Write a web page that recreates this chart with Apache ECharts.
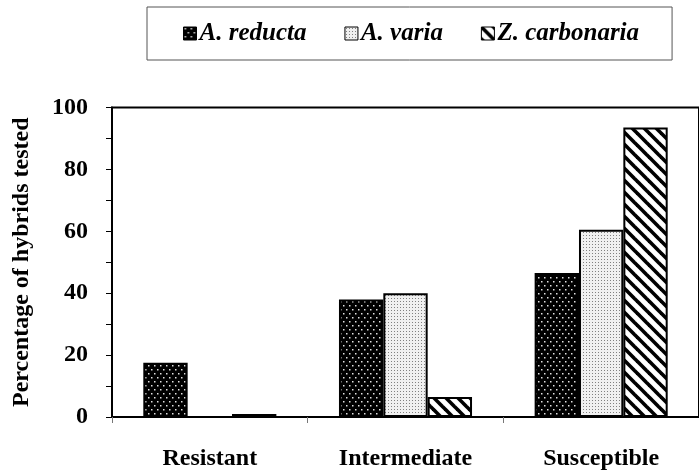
<!DOCTYPE html>
<html>
<head>
<meta charset="utf-8">
<script src="https://cdn.jsdelivr.net/npm/echarts@6/dist/echarts.min.js"></script>
<style>
html,body{margin:0;padding:0;background:#fff;}
#chart{width:699px;height:471px;}
</style>
</head>
<body>
<div id="chart"></div>
<script>
var categories = ['Resistant', 'Intermediate', 'Susceptible'];
var seriesNames = ['A. reducta', 'A. varia', 'Z. carbonaria'];
var reducta = [17.5, 38, 46.5];
var varia = [0, 40, 60.5];
var carbonaria = [1, 6.5, 93.5];
var yTicks = [0, 20, 40, 60, 80, 100];

function makePattern(kind) {
  var c = document.createElement('canvas');
  var ctx;
  if (kind === 'dots') {
    c.width = 6; c.height = 8;
    ctx = c.getContext('2d');
    ctx.fillStyle = '#000'; ctx.fillRect(0, 0, 6, 8);
    ctx.fillStyle = '#e0e0e0';
    ctx.fillRect(1, 1, 1.5, 1.5);
    ctx.fillRect(4, 5, 1.5, 1.5);
  } else if (kind === 'fine') {
    c.width = 3; c.height = 3;
    ctx = c.getContext('2d');
    ctx.fillStyle = '#f0f0f0'; ctx.fillRect(0, 0, 3, 3);
    ctx.fillStyle = '#808080';
    ctx.fillRect(1, 1, 1, 1);
  } else {
    c.width = 12; c.height = 12;
    ctx = c.getContext('2d');
    ctx.fillStyle = '#fff'; ctx.fillRect(0, 0, 12, 12);
    ctx.strokeStyle = '#000'; ctx.lineWidth = 3.6;
    for (var k = -12; k <= 12; k += 12) {
      ctx.beginPath(); ctx.moveTo(k - 2, -2); ctx.lineTo(k + 14, 14); ctx.stroke();
    }
  }
  return { image: c, repeat: 'repeat' };
}

var patterns = [makePattern('dots'), makePattern('fine'), makePattern('stripes')];
var dataSets = [reducta, varia, carbonaria];

var chart = echarts.init(document.getElementById('chart'), null, { renderer: 'canvas' });
var fontFam = '"Liberation Serif", "Times New Roman", serif';

chart.setOption({
  animation: false,
  backgroundColor: '#fff',
  legend: {
    left: 147, top: 7,
    padding: [14, 33, 14, 36],
    itemGap: 38,
    itemWidth: 13, itemHeight: 13,
    icon: 'rect',
    borderColor: '#555', borderWidth: 1,
    itemStyle: { borderColor: '#000', borderWidth: 1 },
    textStyle: { fontFamily: fontFam, fontSize: 25, fontWeight: 'bold', fontStyle: 'italic', color: '#000', padding: [0, 0, 0, -2] },
    data: seriesNames
  },
  grid: { left: 112, top: 107.5, width: 594, bottom: 54, show: true, borderColor: '#000', borderWidth: 2, backgroundColor: 'transparent' },
  xAxis: {
    type: 'category',
    data: categories,
    axisLine: { lineStyle: { color: '#000', width: 2 } },
    axisTick: { show: true, length: 6, lineStyle: { color: '#777', width: 1 } },
    axisLabel: { margin: 30, fontFamily: fontFam, fontSize: 24, fontWeight: 'bold', color: '#000' }
  },
  yAxis: {
    type: 'value',
    min: 0, max: 100, interval: 20,
    name: 'Percentage of hybrids tested',
    nameLocation: 'middle',
    nameGap: 78,
    nameTextStyle: { fontFamily: fontFam, fontSize: 24, fontWeight: 'bold', color: '#000' },
    axisLine: { show: true, lineStyle: { color: '#000', width: 2 } },
    axisTick: { show: true, length: 6, lineStyle: { color: '#000', width: 1 } },
    minorTick: { show: true, splitNumber: 2, length: 6, lineStyle: { color: '#000', width: 1 } },
    splitLine: { show: false },
    axisLabel: {
      margin: 24, fontFamily: fontFam, fontSize: 24, fontWeight: 'bold', color: '#000',
      formatter: function (v) { return yTicks.indexOf(v) >= 0 ? String(v) : ''; }
    }
  },
  series: seriesNames.map(function (n, i) {
    return {
      name: n, type: 'bar',
      data: dataSets[i],
      barGap: '0%', barCategoryGap: '32%',
      itemStyle: { color: patterns[i], borderColor: '#000', borderWidth: 2 }
    };
  })
});
</script>
</body>
</html>
